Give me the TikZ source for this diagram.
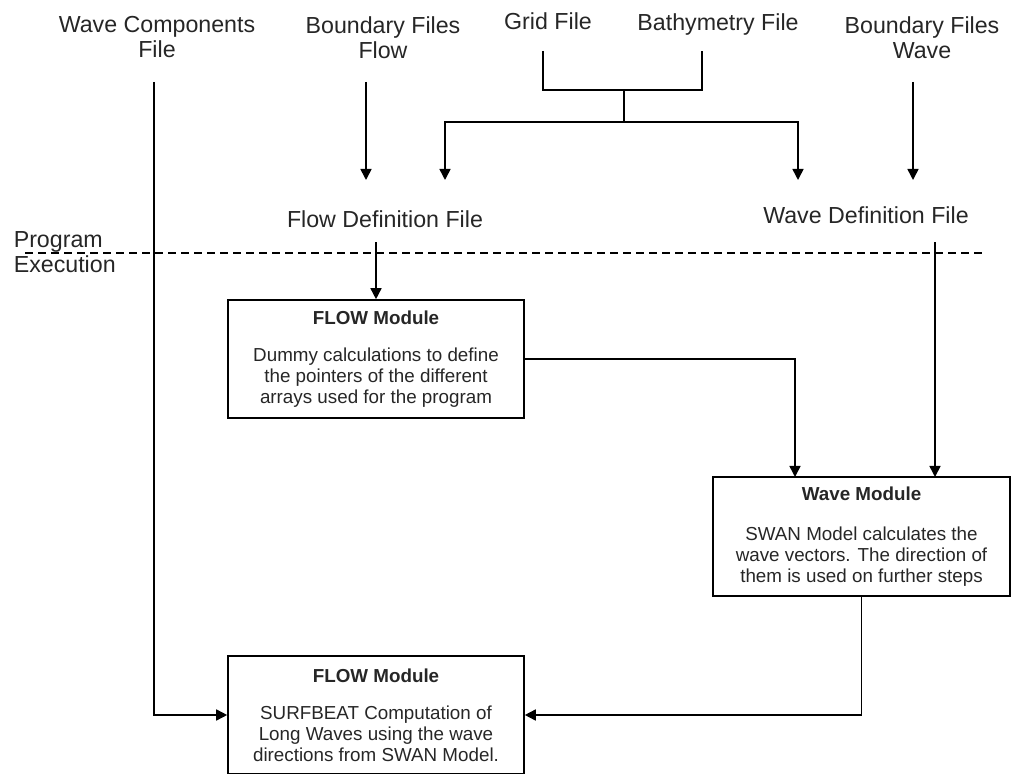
\documentclass[tikz,border=0pt]{standalone}
\usepackage{fontspec}
\setmainfont{Liberation Sans}
\usetikzlibrary{arrows.meta}

\begin{document}
\begin{tikzpicture}[x=0.5pt,y=-0.5pt,>={Triangle[length=5.5pt,width=5.5pt]},line width=0.8pt,
  lbl/.style={inner sep=0pt,align=center,text=black!85,font=\fontsize{11.6}{12.5}\selectfont},
  modbox/.style={draw,inner sep=0pt,align=center,minimum width=148pt,minimum height=59pt,text=black!85,font=\fontsize{9.4}{10.5}\selectfont}]
\useasboundingbox (0,0) rectangle (1011,774);
\node[lbl] (wcf) at (157,37) {Wave Components\\File};
\node[lbl] (bff) at (383,38) {Boundary Files\\Flow};
\node[lbl] (grid) at (548,21) {Grid File};
\node[lbl] (bath) at (718,25) {Bathymetry File};
\node[lbl] (bfw) at (922,38) {Boundary Files\\Wave};
\node[lbl] (fdf) at (385,219) {Flow Definition File};
\node[lbl] (wdf) at (866,215) {Wave Definition File};
\node[lbl,align=left,anchor=west] (prog) at (13,252) {Program\\Execution};
\node[modbox] (flow1) at (376,359) {\textbf{FLOW Module}\\[8pt]Dummy calculations to define\\the pointers of the different\\arrays used for the program};
\node[modbox,minimum width=148.5pt,minimum height=59.5pt] (wave) at (861.5,536.5) {\textbf{Wave Module}\\[9.5pt]SWAN Model calculates the\\wave vectors. The direction of\\them is used on further steps};
\node[modbox] (flow2) at (376,715) {\textbf{FLOW Module}\\[8pt]SURFBEAT Computation of\\Long Waves using the wave\\directions from SWAN Model.};
\coordinate (wcf-s) at (154,82);
\coordinate (bff-s) at (366,82);
\coordinate (bfw-s) at (913,82);
\coordinate (grid-s) at (543,51);
\coordinate (bath-s) at (702,51);
\coordinate (join) at (624,90);
\coordinate (split) at (624,122);
\coordinate (fdf-in) at (445,180);
\coordinate (wdf-in) at (798,180);
\coordinate (wave-in) at (935,477);
\coordinate (wave-in2) at (795,477);
\draw[dash pattern=on 4pt off 2.5pt,line width=0.6pt] (25,253) -- (985,253);
\draw[->] (wcf-s) |- (flow2.west);
\draw[->] (bff-s) -- ++(0,98);
\draw[->] (bfw-s) -- ++(0,98);
\draw (grid-s) |- (join) -| (bath-s);
\draw (join) -- (split);
\draw[->] (split) -| (fdf-in);
\draw[->] (split) -| (wdf-in);
\draw[->,shorten <=7pt] (fdf.south -| flow1.north) -- (flow1.north);
\draw[->,shorten <=9pt] (wdf.south -| wave-in) -- (wave-in);
\draw[->] (flow1.east) -| (wave-in2);
\draw[->] (wave.south) |- (flow2.east);
\end{tikzpicture}
\end{document}
